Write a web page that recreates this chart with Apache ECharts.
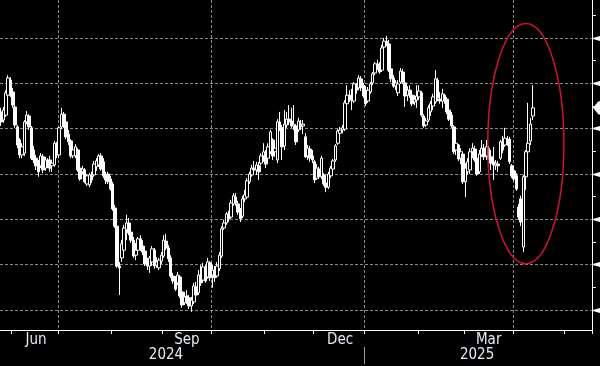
<!DOCTYPE html>
<html><head><meta charset="utf-8">
<script src="https://cdn.jsdelivr.net/npm/echarts@6/dist/echarts.min.js"></script>
<style>html,body{margin:0;padding:0;background:#000;}#c{width:600px;height:366px;}</style>
</head><body><div id="c"></div>
<script>
// ---- data (price scale is arbitrary since the axis labels are cut off) ----
const firstDate = '2024-05-27';
const categoryCount = 255;            // weekdays on the axis (data + empty space to the right)
const monthLabelMonths = ['2024-06', '2024-09', '2024-12', '2025-03'];
const yearLabelDates = ['2024-09-03', '2025-03-10'];
const gridValues = [100, 110, 120, 130, 140, 150, 160];
const minorTickValues = [105, 115, 125, 135, 145, 155, 165];
const yMin = 95.59, yMax = 168.39;
const ellipseCenterDate = '2025-04-08';
const ellipseCenterValue = 136.7;
const ellipseHalfWidthDays = 16.4;
const ellipseHalfHeight = 26.5;

const open = [
143.7,141.9,143.0,147.4,150.7,148.1,144.8,140.4,137.5,134.2,
134.6,141.5,142.8,140.2,135.3,133.5,132.0,131.8,133.8,131.3,
133.1,133.1,131.8,132.0,136.4,134.2,140.4,143.2,141.5,138.8,
137.3,134.0,134.0,135.3,131.3,130.5,130.9,127.8,127.6,129.6,
129.8,131.6,132.0,134.0,132.7,129.8,130.0,128.9,127.8,122.5,
118.5,109.7,111.5,113.2,117.7,119.2,117.2,115.4,112.1,113.2,
115.7,114.1,113.0,110.6,109.7,110.6,113.2,109.9,109.3,110.8,
111.9,115.2,113.7,111.5,107.5,106.6,106.0,107.3,104.0,101.6,
103.1,102.7,100.9,101.8,105.1,103.8,107.7,106.6,109.3,107.3,
110.4,107.7,108.8,107.5,109.1,111.9,118.1,119.2,121.2,120.5,
123.4,124.9,123.4,121.9,120.7,124.5,124.9,128.3,129.8,131.3,
130.9,131.8,132.4,134.0,134.6,133.5,134.9,137.5,134.9,133.1,
141.5,140.2,136.2,140.8,142.1,141.7,140.6,140.6,139.7,141.0,
140.6,138.2,134.0,135.5,134.0,132.7,129.1,131.1,129.4,129.8,
128.0,127.1,129.6,131.1,133.1,136.8,139.0,139.7,139.9,145.5,
147.4,147.0,146.1,149.4,149.0,151.0,149.6,148.5,146.1,148.1,
150.1,152.3,154.3,154.0,152.9,158.0,159.3,158.7,153.2,151.2,
149.4,147.9,150.3,152.5,150.1,147.4,148.5,147.4,145.9,146.3,
147.0,147.9,142.8,140.8,141.9,143.7,145.0,145.9,150.7,146.5,
146.1,147.4,146.5,144.1,143.0,140.4,135.3,136.4,133.5,134.4,
128.3,130.5,130.9,134.9,135.5,133.5,130.5,134.2,135.7,134.0,
135.7,133.8,132.7,132.0,132.2,133.5,137.1,136.4,137.7,137.7,
131.8,130.7,129.6,122.7,124.5,113.9,129.4,134.9,137.3,142.8];
const close = [
141.5,144.1,147.9,151.2,147.4,145.2,140.8,136.4,134.2,136.0,
141.5,143.0,140.4,133.5,133.1,131.8,130.5,134.0,130.9,133.1,
132.0,131.3,132.4,136.8,134.2,140.2,143.2,140.6,138.2,137.1,
134.0,135.3,136.0,130.9,128.9,131.1,128.3,129.6,129.8,128.7,
132.2,132.9,134.0,131.1,129.6,128.7,128.3,126.7,122.3,118.5,
109.7,109.3,114.6,118.1,119.2,117.0,115.4,111.9,113.2,115.7,
113.7,112.8,110.2,109.7,111.5,113.5,109.7,110.6,111.0,112.1,
115.4,113.7,111.3,107.5,106.4,104.6,107.7,103.1,101.1,102.9,
102.0,100.9,102.2,105.3,103.3,107.7,106.0,109.5,106.4,110.6,
107.1,108.8,107.1,109.7,112.1,117.9,119.2,121.2,120.1,123.6,
125.2,123.6,121.6,120.1,124.5,125.4,128.5,130.0,131.3,130.9,
132.0,130.5,134.0,134.9,132.2,136.0,139.3,134.0,135.7,141.5,
140.2,136.0,141.0,142.1,141.5,140.6,141.0,137.1,141.7,140.4,
141.0,133.8,135.7,133.5,133.1,128.7,131.3,129.4,133.5,127.8,
127.1,130.0,131.3,132.9,136.2,139.5,139.7,140.2,145.7,147.4,
146.8,146.3,149.9,148.5,151.2,149.0,147.2,145.5,148.5,149.9,
152.1,154.3,153.6,152.5,157.8,159.3,158.7,152.9,151.0,149.4,
150.1,149.9,152.7,150.3,147.2,148.5,147.4,145.5,146.5,147.2,
148.3,143.0,140.6,141.7,144.6,145.5,147.0,151.0,146.8,146.1,
147.7,146.3,143.7,142.1,140.6,134.9,136.8,133.3,134.9,128.3,
131.3,132.7,134.9,135.7,133.1,130.0,134.4,135.7,133.8,136.0,
133.5,132.4,132.0,132.4,131.8,137.1,135.3,137.9,136.6,132.7,
129.6,128.9,126.7,120.5,119.4,129.4,134.9,136.8,141.0,144.6];
const low = [
140.6,141.3,142.6,147.0,147.0,144.6,140.2,135.7,133.5,133.5,
134.0,141.0,139.7,133.1,132.4,130.9,129.4,131.3,130.2,130.7,
131.3,130.5,130.5,131.6,133.5,133.5,139.9,140.2,137.7,136.4,
133.5,133.5,133.5,130.5,128.5,130.0,128.0,127.4,127.1,128.0,
129.4,130.7,131.6,130.7,129.1,127.8,127.8,126.3,121.9,118.1,
109.3,103.3,110.6,112.8,115.4,116.5,114.8,111.5,111.0,112.8,
113.0,112.1,109.7,108.8,108.2,109.7,109.1,109.3,108.8,110.2,
111.5,113.2,110.6,107.1,105.8,104.2,105.5,102.7,100.5,101.1,
101.3,100.2,99.6,101.3,102.7,103.3,105.3,106.4,106.0,106.9,
106.4,104.9,106.2,107.1,108.6,111.5,117.7,118.8,119.4,120.1,
123.0,123.0,121.0,119.4,120.3,123.8,124.5,127.8,129.4,130.2,
129.8,128.7,132.0,132.7,131.3,133.1,134.4,133.1,133.8,132.4,
139.5,133.1,135.3,140.2,140.8,140.2,139.7,136.4,139.3,139.7,
138.8,133.5,133.1,132.7,132.4,128.0,128.7,128.9,128.9,127.4,
126.0,126.7,129.1,130.7,132.7,136.4,137.9,139.0,139.5,145.0,
145.9,144.1,145.7,147.7,148.5,148.3,146.8,145.0,145.7,147.7,
149.6,151.8,152.9,152.1,152.5,157.6,158.2,152.5,150.3,149.0,
148.5,147.2,149.9,149.9,144.8,146.1,146.8,145.0,145.2,144.6,
146.3,142.6,140.2,140.4,141.5,142.8,144.1,145.5,146.1,145.5,
144.6,145.5,143.2,141.7,140.2,134.4,134.2,132.9,132.2,127.8,
124.9,129.8,130.0,133.5,132.7,129.6,130.0,133.8,133.1,133.1,
132.9,130.9,128.7,130.9,130.5,133.1,134.6,136.0,136.2,132.2,
129.1,128.5,126.3,119.9,118.5,112.8,126.5,134.0,136.4,141.9];
const high = [
144.6,144.8,148.5,151.8,151.4,149.0,145.2,140.8,137.9,136.8,
141.9,143.9,143.2,140.6,136.2,134.2,133.1,134.6,134.4,133.8,
133.5,134.0,133.1,137.3,137.1,140.4,144.6,143.7,142.1,139.7,
137.7,136.2,136.6,135.7,132.0,131.8,131.3,130.0,130.2,130.5,
132.9,133.5,134.4,134.6,133.5,130.5,130.5,129.6,128.3,123.2,
119.0,110.6,115.4,118.8,121.0,120.3,118.1,116.1,114.8,116.1,
116.5,115.4,113.7,111.5,111.9,114.1,113.7,111.7,111.5,112.8,
116.5,116.8,114.3,112.1,108.2,107.5,108.4,107.7,104.9,104.0,
104.4,103.3,102.9,106.0,106.2,108.8,109.9,110.4,109.9,111.5,
110.8,109.9,109.7,110.6,112.8,118.5,119.9,121.6,121.9,124.3,
125.8,125.8,124.1,122.5,125.2,126.5,129.1,130.5,132.0,132.9,
132.7,132.7,134.6,136.8,135.3,136.8,139.7,137.9,136.6,142.1,
143.7,140.8,144.1,143.7,145.2,144.6,145.2,141.0,142.4,141.9,
141.9,139.0,136.4,136.2,135.3,133.1,132.2,131.6,134.0,130.2,
129.4,130.5,131.8,133.3,136.6,139.9,140.4,140.8,146.3,149.6,
148.5,148.8,150.3,150.1,151.8,151.6,150.1,149.4,149.2,150.3,
152.5,154.7,155.2,154.7,158.5,160.0,160.5,159.6,153.8,151.8,
150.7,150.7,153.4,153.2,150.5,149.4,149.6,147.9,147.4,149.6,
149.6,148.3,143.2,142.4,145.2,146.1,147.7,152.9,151.2,148.1,
148.8,147.7,147.0,145.0,143.7,140.8,137.7,136.6,135.7,134.9,
132.4,133.5,135.7,136.8,136.2,134.2,135.3,137.5,136.6,137.5,
136.2,135.3,136.0,133.1,132.9,137.5,138.4,140.2,138.4,138.2,
132.2,131.8,130.2,123.4,125.2,129.8,135.3,145.7,142.4,149.6];

// ---- category axis: weekdays ----
const dates = [];
(function () {
  const d = new Date(firstDate + 'T00:00:00Z');
  while (dates.length < categoryCount) {
    const wd = d.getUTCDay();
    if (wd !== 0 && wd !== 6) dates.push(d.toISOString().slice(0, 10));
    d.setUTCDate(d.getUTCDate() + 1);
  }
})();
const monthNames = ['Jan','Feb','Mar','Apr','May','Jun','Jul','Aug','Sep','Oct','Nov','Dec'];
const monthStart = new Set(), quarterStart = [], yearStart = [];
const monthRange = {};
dates.forEach((s, i) => {
  const ym = s.slice(0, 7);
  if (!monthRange[ym]) monthRange[ym] = [i, i + 1]; else monthRange[ym][1] = i + 1;
  if (i > 0 && dates[i - 1].slice(0, 7) !== ym) {
    monthStart.add(i);
    const m = +s.slice(5, 7);
    if (m % 3 === 1) quarterStart.push(i);
    if (m === 1) yearStart.push(i);
  }
});
const monthLabelIdx = new Set(monthLabelMonths.map(ym => Math.floor((monthRange[ym][0] + monthRange[ym][1]) / 2)));
const yearLabelIdx = new Set(yearLabelDates.map(s => dates.indexOf(s)));

const ohlc = open.map((o, i) => [o, close[i], low[i], high[i]]);
const lastIdx = close.length - 1;

const fontFamily = '"Liberation Sans Narrow", "Arial Narrow", "DejaVu Sans Condensed", sans-serif';
const labelColor = '#e4ebf5';
const gridColor = '#8a8a8a';
const crisp = v => Math.round(v - 0.5) + 0.5;

const chart = echarts.init(document.getElementById('c'), null, {renderer: 'canvas'});
chart.setOption({
  backgroundColor: '#000',
  animation: false,
  grid: {left: 0, right: 8, top: 0, bottom: 36, containLabel: false},
  xAxis: [{
    type: 'category', data: dates, boundaryGap: true,
    axisLine: {show: true, lineStyle: {color: '#fff', width: 1}},
    axisTick: {show: true, length: 4, interval: i => monthStart.has(i), lineStyle: {color: '#fff'}},
    axisLabel: {show: true, interval: i => monthLabelIdx.has(i),
      formatter: v => monthNames[+v.slice(5, 7) - 1],
      color: labelColor, fontFamily: fontFamily, fontSize: 15, margin: 3},
    splitLine: {show: false}
  }, {
    type: 'category', data: dates, boundaryGap: true, position: 'bottom', offset: 17,
    axisLine: {show: false}, axisTick: {show: false},
    axisLabel: {show: true, interval: i => yearLabelIdx.has(i), formatter: v => v.slice(0, 4),
      color: labelColor, fontFamily: fontFamily, fontSize: 15, margin: 1},
    splitLine: {show: false}
  }],
  yAxis: {
    type: 'value', position: 'right', min: yMin, max: yMax, scale: true,
    axisLine: {show: true, lineStyle: {color: '#fff', width: 1}},
    axisTick: {show: false}, axisLabel: {show: false}, splitLine: {show: false}
  },
  series: [
    { // horizontal grid lines + major marks on the right axis
      type: 'custom', z: 1, silent: true, clip: false,
      data: gridValues.map(v => [0, v]),
      renderItem: (params, api) => {
        const cs = params.coordSys;
        const y = crisp(api.coord([0, api.value(1)])[1]);
        const xr = cs.x + cs.width;
        return {type: 'group', children: [
          {type: 'line', shape: {x1: cs.x, y1: y, x2: xr - 1, y2: y}, style: {stroke: gridColor, lineWidth: 1, lineDash: [3, 2]}},
          {type: 'polygon', shape: {points: [[xr - 1, y], [xr + 8, y - 2.6], [xr + 8, y + 2.6]]}, style: {fill: '#fff'}}
        ]};
      }
    },
    { // minor marks on the right axis
      type: 'custom', z: 1, silent: true, clip: false,
      data: minorTickValues.map(v => [0, v]),
      renderItem: (params, api) => {
        const cs = params.coordSys;
        const y = crisp(api.coord([0, api.value(1)])[1]);
        const xr = cs.x + cs.width;
        return {type: 'line', shape: {x1: xr, y1: y, x2: xr + 4, y2: y}, style: {stroke: '#fff', lineWidth: 1}};
      }
    },
    { // vertical quarter grid lines
      type: 'custom', z: 1, silent: true, clip: false,
      data: quarterStart.map(i => [i, yMin]),
      renderItem: (params, api) => {
        const cs = params.coordSys;
        const bw = api.size([1, 0])[0];
        const x = crisp(api.coord([api.value(0), yMin])[0] - bw / 2);
        return {type: 'line', shape: {x1: x, y1: cs.y, x2: x, y2: cs.y + cs.height - 1}, style: {stroke: gridColor, lineWidth: 1, lineDash: [3, 2]}};
      }
    },
    { // year separator below the axis
      type: 'custom', z: 1, silent: true, clip: false,
      data: yearStart.map(i => [i, yMin]),
      renderItem: (params, api) => {
        const cs = params.coordSys;
        const bw = api.size([1, 0])[0];
        const x = crisp(api.coord([api.value(0), yMin])[0] - bw / 2);
        const yb = cs.y + cs.height;
        return {type: 'line', shape: {x1: x, y1: yb + 17, x2: x, y2: yb + 34}, style: {stroke: '#9a9a9a', lineWidth: 1}};
      }
    },
    {
      type: 'candlestick', z: 3, data: ohlc, barWidth: 3,
      itemStyle: {color: '#000', color0: '#fff', borderColor: '#fff', borderColor0: '#fff', borderWidth: 1}
    },
    { // last price tag on the right axis
      type: 'custom', z: 4, silent: true, clip: false,
      data: [[lastIdx, close[lastIdx]]],
      renderItem: (params, api) => {
        const cs = params.coordSys;
        const y = api.coord([api.value(0), api.value(1)])[1];
        const xr = cs.x + cs.width;
        return {type: 'polygon', shape: {points: [[xr + 1, y], [xr + 6.5, y - 6.7], [xr + 16, y - 6.7], [xr + 16, y + 6.7], [xr + 6.5, y + 6.7]]}, style: {fill: '#fff'}};
      }
    },
    { // red ellipse annotation
      type: 'custom', z: 5, silent: true, clip: false,
      data: [[ellipseCenterDate, ellipseCenterValue]],
      renderItem: (params, api) => {
        const c = api.coord([api.value(0), api.value(1)]);
        const bw = api.size([1, 0])[0];
        const top = api.coord([api.value(0), ellipseCenterValue + ellipseHalfHeight]);
        return {type: 'ellipse', shape: {cx: c[0], cy: c[1], rx: ellipseHalfWidthDays * bw, ry: Math.abs(c[1] - top[1])},
          style: {fill: 'none', stroke: '#cc1236', lineWidth: 1.5}};
      }
    }
  ]
});
</script>
</body></html>
